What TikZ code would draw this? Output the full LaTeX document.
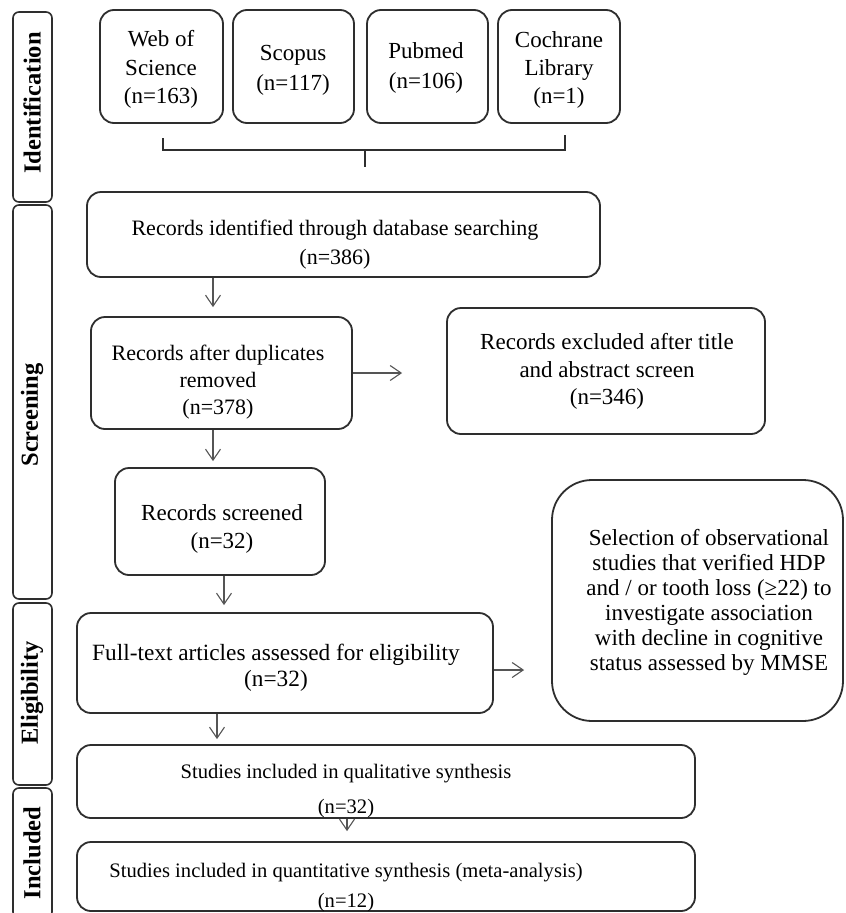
\documentclass[tikz,border=0pt]{standalone}
\usepackage{fontspec}
\setmainfont{Liberation Serif}
\usetikzlibrary{arrows.meta,fit}
\definecolor{boxgray}{HTML}{2E2E2E}
\definecolor{arrgray}{HTML}{555555}
\begin{document}
\begin{tikzpicture}[x=1pt,y=-1pt,
  box/.style={draw=boxgray, line width=1.8pt, rounded corners=14pt, inner sep=0pt},
  bigbox/.style={box, rounded corners=40pt},
  phase/.style={draw=boxgray, line width=1.6pt, rounded corners=6pt, inner sep=0pt},
  phlabel/.style={rotate=90, font=\fontsize{24.5}{26}\selectfont\bfseries, inner sep=0pt},
  txt/.style={align=center, inner sep=0pt, yshift=-2.5pt, font=\fontsize{23}{#1}\selectfont},
  txt/.default=28,
  txts/.style 2 args={txt=#2, font=\fontsize{#1}{#2}\selectfont},
  arr/.style={draw=arrgray, line width=1.1pt, -{Straight Barb[length=11pt,width=15pt,line width=1.1pt]}},
  brace/.style={draw=boxgray, line width=1.8pt}
]
\useasboundingbox (0,0) rectangle (846,913);
\fill[white] (0,0) rectangle (846,913);

% phase column
\node[phase, fit={(13,12)(52,202)}] (pid) {};
\node[phlabel] at (32,103) {Identification};
\node[phase, fit={(13,205)(52,599)}] (psc) {};
\node[phlabel] at (32,415) {Screening};
\node[phase, fit={(13,603)(52,785)}] (pel) {};
\node[phlabel] at (32,693) {Eligibility};
\node[phase, fit={(13,788)(52,918)}] (pin) {};
\node[phlabel] at (32,853) {Included};

% databases
\node[box, fit={(100,10)(223,123)}] (wos) {};
\node[txt=28.5] at (161,67) {Web of\\Science\\(n=163)};
\node[box, fit={(233,10)(354,123)}] (scopus) {};
\node[txt=30] at (293,68) {Scopus\\(n=117)};
\node[box, fit={(367,10)(488,123)}] (pubmed) {};
\node[txt=30] at (426,65) {Pubmed\\(n=106)};
\node[box, fit={(498,10)(620,123)}] (cochrane) {};
\node[txt=28] at (559,67) {Cochrane\\Library\\(n=1)};

% brace
\coordinate (bl) at (163,138);
\coordinate (br) at (565,135);
\coordinate (bm) at (365,150);
\coordinate (bt) at (365,167);
\draw[brace] (bl) -- (bl |- bm) -- (br |- bm) -- (br);
\draw[brace] (bm) -- (bt);

% main flow
\node[box, fit={(87,192)(600,277)}] (ident) {};
\node[txts={22}{29}] at (335,242) {Records identified through database searching\\(n=386)};

\node[box, fit={(91,317)(352,429)}] (dup) {};
\node[txts={22}{27}] at (218,380) {Records after duplicates\\removed\\(n=378)};

\node[box, fit={(447,308)(765,434)}] (excl) {};
\node[txt=27.5] at (607,369) {Records excluded after title\\and abstract screen\\(n=346)};

\node[box, fit={(115,468)(325,575)}] (scr) {};
\node[txt=28] at (222,526) {Records screened\\(n=32)};

\node[box, fit={(77,613)(493,713)}] (full) {};
\node[txts={23.3}{26}] at (276,665) {Full-text articles assessed for eligibility\\(n=32)};

\node[bigbox, fit={(552,480)(843,721)}] (sel) {};
\node[txt=25] at (709,600) {Selection of observational\\studies that verified HDP\\and / or tooth loss (≥22) to\\investigate association\\with decline in cognitive\\status assessed by MMSE};

\node[box, fit={(77,745)(695,818)}] (qual) {};
\node[txts={20.6}{35}] at (346,789) {Studies included in qualitative synthesis\\(n=32)};

\node[box, fit={(77,842)(695,911)}] (quant) {};
\node[txts={20.6}{30}] at (346,885) {Studies included in quantitative synthesis (meta-analysis)\\(n=12)};

% connectors
\coordinate (c1) at (213,0);
\coordinate (c2) at (224,0);
\coordinate (c3) at (217,0);
\coordinate (c4) at (347,0);
\coordinate (r2) at (0,670);
\draw[arr, shorten >=9pt] (ident.south -| c1) -- (dup.north -| c1);
\draw[arr, shorten >=44pt] (dup.east) -- (excl.west |- dup.east);
\draw[arr, shorten >=6pt] (dup.south -| c1) -- (scr.north -| c1);
\draw[arr, shorten >=7pt] (scr.south -| c2) -- (full.north -| c2);
\draw[arr, shorten >=27pt] (full.east |- r2) -- (sel.west |- r2);
\draw[arr, shorten >=5pt] (full.south -| c3) -- (qual.north -| c3);
\draw[arr, shorten >=10pt] (qual.south -| c4) -- (quant.north -| c4);
\end{tikzpicture}
\end{document}
